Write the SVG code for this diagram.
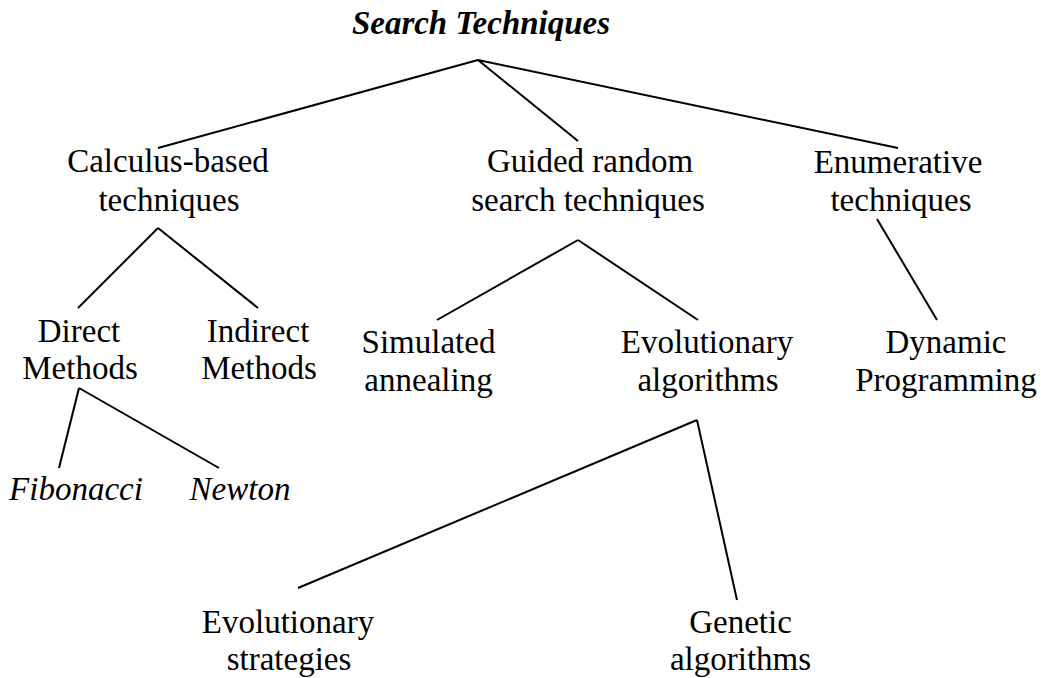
<svg xmlns="http://www.w3.org/2000/svg" width="1041" height="678" viewBox="0 0 1041 678">
  <style>
    .lbl { font-family: "Liberation Serif", "Times New Roman", serif; font-size: 33px; fill: #000; text-anchor: middle; }
    .it { font-style: italic; }
    .title { font-weight: bold; font-style: italic; }
    .edge { stroke: #000; stroke-width: 2; fill: none; stroke-linecap: butt; }
  </style>
  <rect width="1041" height="678" fill="#fff"/>

  <g id="connectors">
    <line class="edge" x1="478" y1="60" x2="158" y2="148"/>
    <line class="edge" x1="478" y1="60" x2="578" y2="141"/>
    <line class="edge" x1="478" y1="60" x2="898" y2="148"/>
    <line class="edge" x1="158" y1="228" x2="78" y2="308"/>
    <line class="edge" x1="158" y1="228" x2="258" y2="308"/>
    <line class="edge" x1="578" y1="240" x2="437" y2="320"/>
    <line class="edge" x1="578" y1="240" x2="698" y2="320"/>
    <line class="edge" x1="877" y1="219" x2="937" y2="320"/>
    <line class="edge" x1="79" y1="388" x2="59" y2="468"/>
    <line class="edge" x1="79" y1="388" x2="219" y2="468"/>
    <line class="edge" x1="697" y1="420" x2="298" y2="588"/>
    <line class="edge" x1="697" y1="420" x2="737" y2="600"/>
  </g>

  <g id="root">
    <text class="lbl title" x="481" y="34">Search Techniques</text>
  </g>
  <g id="calculus">
    <text class="lbl" x="168" y="172">Calculus-based</text>
    <text class="lbl" x="169" y="211">techniques</text>
  </g>
  <g id="guided">
    <text class="lbl" x="590" y="172">Guided random</text>
    <text class="lbl" x="588" y="211">search techniques</text>
  </g>
  <g id="enumerative">
    <text class="lbl" x="898" y="173">Enumerative</text>
    <text class="lbl" x="901" y="211">techniques</text>
  </g>
  <g id="direct">
    <text class="lbl" x="79" y="342">Direct</text>
    <text class="lbl" x="80" y="379">Methods</text>
  </g>
  <g id="indirect">
    <text class="lbl" x="258" y="342">Indirect</text>
    <text class="lbl" x="259" y="379">Methods</text>
  </g>
  <g id="simulated">
    <text class="lbl" x="428.5" y="353">Simulated</text>
    <text class="lbl" x="428.5" y="391">annealing</text>
  </g>
  <g id="evolutionary">
    <text class="lbl" x="707" y="353">Evolutionary</text>
    <text class="lbl" x="708" y="391">algorithms</text>
  </g>
  <g id="dynamic">
    <text class="lbl" x="946" y="353">Dynamic</text>
    <text class="lbl" x="946" y="391">Programming</text>
  </g>
  <g id="fibonacci">
    <text class="lbl it" x="76" y="500">Fibonacci</text>
  </g>
  <g id="newton">
    <text class="lbl it" x="240" y="500">Newton</text>
  </g>
  <g id="strategies">
    <text class="lbl" x="288" y="633">Evolutionary</text>
    <text class="lbl" x="289" y="670">strategies</text>
  </g>
  <g id="genetic">
    <text class="lbl" x="740.5" y="633">Genetic</text>
    <text class="lbl" x="740.5" y="670">algorithms</text>
  </g>
</svg>
